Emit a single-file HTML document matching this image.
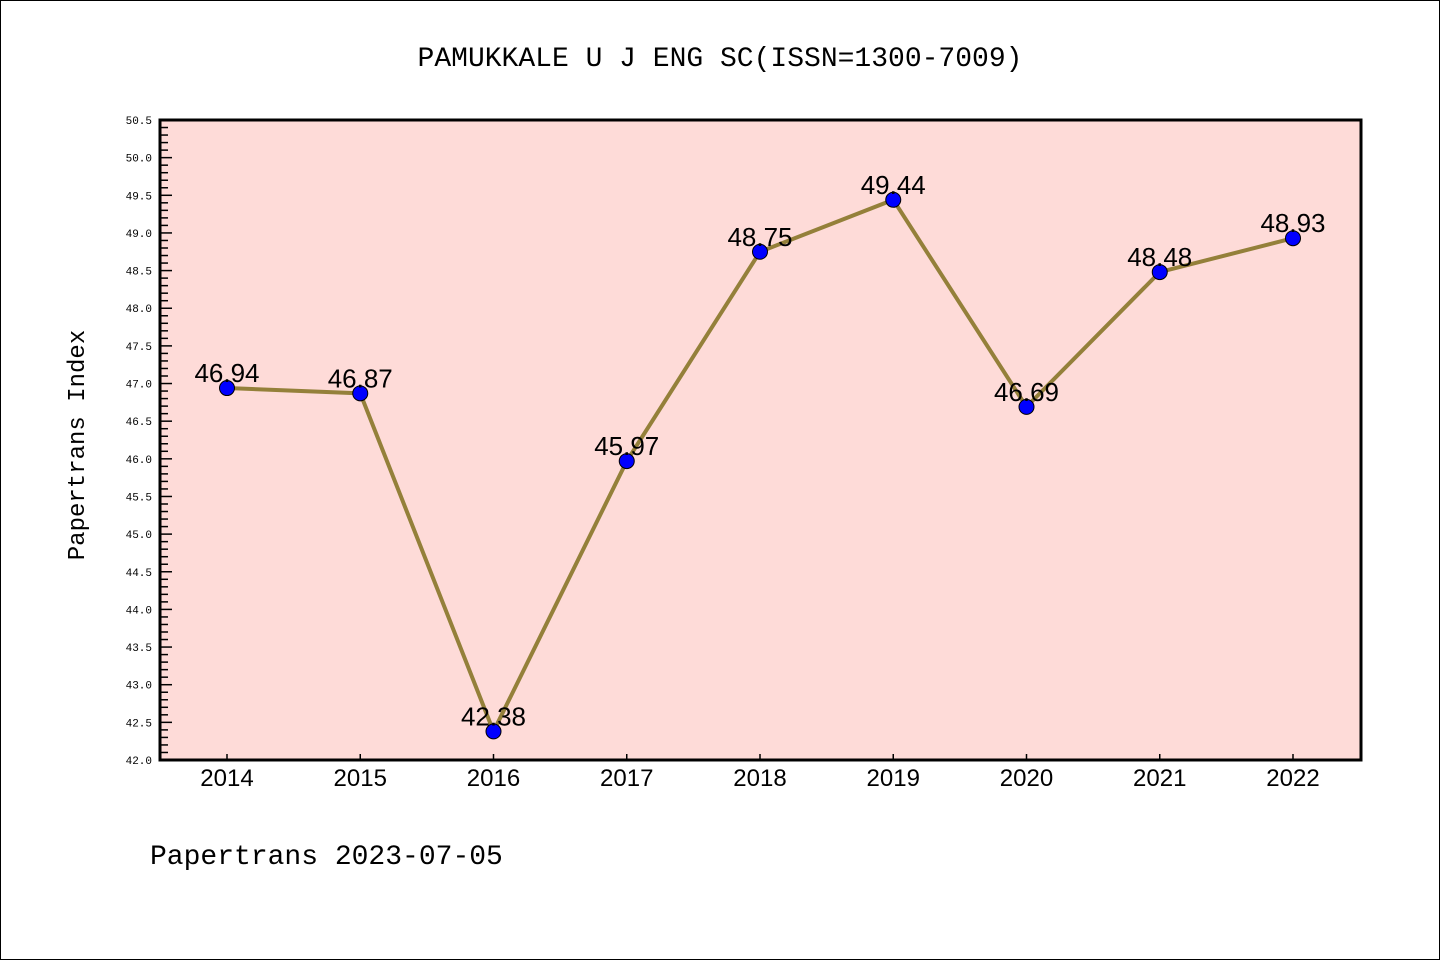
<!DOCTYPE html>
<html><head><meta charset="utf-8"><style>
body{margin:0;background:#fff}
svg{display:block}
text{font-family:"Liberation Mono","DejaVu Sans Mono",monospace}
</style></head><body>
<svg id="c" width="1440" height="960">
<rect x="0.5" y="0.5" width="1439" height="959" fill="#fff" stroke="#000"/>
<text x="720" y="66" text-anchor="middle" font-size="28">PAMUKKALE U J ENG SC(ISSN=1300-7009)</text>
<rect x="160" y="120" width="1201" height="640" fill="#fedbd8"/>
<g id="ax"></g>
<rect x="160" y="120" width="1201" height="640" fill="none" stroke="#000" stroke-width="3"/>
<text transform="translate(84,445) rotate(-90)" text-anchor="middle" font-size="24">Papertrans Index</text>
<text x="150" y="864" font-size="28">Papertrans 2023-07-05</text>
</svg>
<script>
const years=["2014","2015","2016","2017","2018","2019","2020","2021","2022"];
const values=[46.94,46.87,42.38,45.97,48.75,49.44,46.69,48.48,48.93];
const labels=["46.94","46.87","42.38","45.97","48.75","49.44","46.69","48.48","48.93"];
const yMin=42.0,yMax=50.5;
const NS="http://www.w3.org/2000/svg";
const g=document.getElementById('ax');
const X=i=>227+i*133.25;
const Y=v=>760-(v-yMin)/(yMax-yMin)*640;
function mk(t,a,p){const e=document.createElementNS(NS,t);for(const k in a)e.setAttribute(k,a[k]);(p||g).appendChild(e);return e;}
for(let k=0;k<=85;k++){const v=yMin+k*0.1;const y=Y(v);const major=k%5===0;
const l=mk('line',{x1:160,x2:160+(major?12:8),y1:y,y2:y,stroke:'#000','stroke-width':1.5});

if(major){const t=mk('text',{x:152,y:y+4,'text-anchor':'end','font-size':11});t.textContent=v.toFixed(1);
}}
years.forEach((yr,i)=>{const x=X(i);
const l=mk('line',{x1:x,x2:x,y1:760,y2:754,stroke:'#000','stroke-width':1.5});

const t=mk('text',{x:x,y:786,'text-anchor':'middle','font-size':24,style:'font-family:"Liberation Sans",sans-serif'});t.textContent=yr;
});
const pl=mk('polyline',{points:values.map((v,i)=>X(i)+','+Y(v)).join(' '),fill:'none',stroke:'#94803a','stroke-width':4});

values.forEach((v,i)=>{const c=mk('circle',{cx:X(i),cy:Y(v),r:7.5,fill:'#0000ff',stroke:'#000','stroke-width':1});

const t=mk('text',{x:X(i),y:Y(v)-6,'text-anchor':'middle','font-size':26,style:'font-family:"Liberation Sans",sans-serif'});t.textContent=labels[i];
});
</script>
</body></html>
